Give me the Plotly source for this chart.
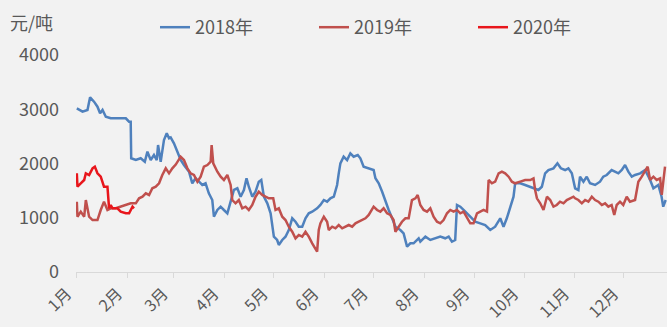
import plotly.graph_objects as go

# ---- data (day of year, value in 元/吨) ----
days_2018 = [0, 3.5, 6.5, 8.1, 10.5, 12.6, 14.2, 15.7, 17.7, 20.7, 29.9, 31.9, 32.9, 33.2, 36.0, 39.0, 41.5,
             43.1, 45.1, 47.1, 48.8, 49.6, 51.2, 53.2, 54.9, 56.3, 57.3, 59.3, 61.4, 63.4, 65.4, 68.5, 70.5,
             72.5, 74.6, 76.6, 78.6, 80.6, 82.7, 83.7, 85.8, 87.8, 89.8, 91.9, 93.9, 95.9, 98.0, 100.0, 102.0,
             103.6, 105.0, 107.1, 109.1, 111.1, 112.6, 114.2, 116.3, 118.3, 120.3, 122.3, 123.3, 125.4, 127.4,
             129.4, 131.5, 133.5, 135.5, 137.6, 139.6, 141.6, 143.7, 146.7, 148.7, 150.8, 152.8, 154.8, 156.9,
             158.9, 159.9, 160.9, 162.9, 165.0, 167.0, 169.0, 171.5, 173.1, 175.1, 178.2, 181.2, 182.3, 184.3,
             186.4, 188.4, 190.4, 192.5, 194.5, 197.5, 199.5, 201.6, 203.6, 205.6, 208.7, 209.7, 212.8, 215.8,
             218.8, 221.9, 224.9, 227.0, 229.0, 231.0, 232.1, 234.1, 236.1, 238.2, 240.2, 243.2, 246.3, 249.3,
             252.4, 255.4, 258.5, 260.5, 262.5, 264.6, 266.6, 267.6, 270.7, 273.7, 276.8, 279.8, 281.8, 283.9,
             285.9, 287.9, 291.0, 293.4, 295.5, 298.1, 300.1, 302.2, 304.2, 306.2, 307.2, 309.3, 311.3, 313.3,
             316.4, 319.4, 321.4, 323.5, 326.5, 328.5, 330.6, 332.7, 334.7, 336.7, 338.8, 340.8, 343.9, 346.9,
             350.0, 352.0, 355.0, 357.0, 358.0, 359.5]
vals_2018 = [3017, 2955, 2986, 3220, 3140, 3047, 2925, 2986, 2863, 2833, 2833, 2770, 2770, 2096, 2064, 2096,
             2033, 2218, 2064, 2157, 2064, 2341, 2033, 2433, 2557, 2464, 2480, 2372, 2218, 2064, 1972, 1849,
             1635, 1727, 1665, 1604, 1635, 1451, 1327, 1019, 1143, 1204, 1143, 1082, 1296, 1512, 1543, 1388,
             1512, 1727, 1572, 1388, 1480, 1665, 1696, 1388, 1266, 1082, 651, 590, 498, 590, 651, 774, 990, 927,
             835, 835, 990, 1082, 1112, 1174, 1235, 1327, 1296, 1358, 1388, 1604, 1819, 2003, 2126, 2064, 2188,
             2126, 2157, 2096, 1942, 1911, 1880, 1727, 1635, 1480, 1296, 1143, 990, 835, 774, 713, 467, 529, 529,
             621, 559, 651, 590, 621, 651, 621, 651, 559, 590, 1235, 1204, 1143, 1082, 1019, 927, 897, 866, 774,
             835, 990, 835, 990, 1204, 1388, 1635, 1635, 1604, 1572, 1543, 1512, 1572, 1819, 1880, 1911, 2003,
             1911, 1880, 1911, 1819, 1543, 1512, 1757, 1665, 1757, 1635, 1604, 1665, 1757, 1788, 1880, 1850,
             1819, 1880, 1972, 1850, 1757, 1788, 1819, 1880, 1696, 1543, 1604, 1388, 1204, 1327]

days_2019 = [0, 0.4, 2.4, 4.5, 5.5, 7.5, 9.6, 12.6, 14.6, 16.6, 18.7, 20.7, 23.8, 26.8, 29.9, 32.9, 36.0,
             38.0, 40.1, 42.1, 44.1, 46.1, 48.2, 50.2, 52.2, 54.3, 56.3, 58.3, 60.4, 63.4, 65.4, 67.5, 69.5,
             71.5, 73.6, 75.6, 77.6, 79.7, 81.7, 82.3, 83.3, 85.8, 87.8, 89.8, 91.9, 93.9, 94.9, 96.9, 98.9,
             101.0, 103.0, 105.0, 107.1, 109.1, 111.1, 113.2, 115.2, 117.2, 119.9, 121.3, 123.3, 125.4, 127.4,
             129.4, 131.5, 133.5, 135.5, 137.6, 139.6, 141.6, 143.7, 146.7, 147.7, 148.7, 150.8, 152.8, 153.8,
             155.9, 157.9, 159.9, 162.0, 164.0, 166.0, 168.1, 170.1, 172.1, 174.2, 176.2, 178.2, 180.3, 181.2,
             183.3, 185.3, 187.3, 189.4, 191.4, 193.4, 194.5, 196.5, 198.5, 200.6, 202.6, 204.6, 206.7, 208.1,
             209.7, 211.7, 213.8, 215.8, 217.8, 219.9, 221.9, 223.9, 226.0, 228.0, 230.0, 232.1, 234.1, 236.1,
             238.2, 240.2, 242.2, 244.3, 246.3, 248.3, 250.4, 251.4, 253.4, 255.4, 257.5, 259.5, 261.5, 263.6,
             265.6, 267.6, 270.7, 273.7, 276.8, 278.8, 279.8, 280.9, 282.9, 284.9, 287.0, 289.0, 291.0, 293.0,
             295.0, 297.1, 299.1, 301.1, 303.2, 304.2, 306.2, 308.3, 310.3, 312.3, 314.4, 316.4, 318.4, 320.5,
             322.5, 324.5, 326.5, 328.1, 329.6, 331.6, 333.6, 335.7, 337.7, 340.8, 342.8, 344.9, 346.9, 348.5,
             350.0, 352.0, 354.0, 356.1, 357.1, 358.0, 359.1]
vals_2019 = [1296, 1019, 1112, 1019, 1327, 1019, 958, 958, 1143, 1296, 1143, 1174, 1174, 1204, 1235, 1266,
             1266, 1358, 1388, 1451, 1420, 1543, 1572, 1635, 1788, 1911, 1819, 1911, 1980, 2126, 2064, 1911,
             1819, 1788, 1665, 1757, 1942, 1972, 2033, 2341, 2003, 1849, 1757, 1696, 1788, 1604, 1327, 1266,
             1327, 1174, 1204, 1143, 1235, 1388, 1480, 1420, 1388, 1358, 1358, 1143, 1174, 1019, 958, 835, 743,
             621, 682, 651, 743, 651, 529, 374, 774, 897, 1019, 927, 774, 835, 805, 866, 805, 835, 866, 835,
             897, 927, 958, 990, 1051, 1143, 1204, 1143, 1112, 1174, 1082, 1051, 958, 743, 835, 927, 990, 990,
             1327, 1358, 1420, 1235, 1143, 1112, 1174, 1019, 927, 897, 958, 1082, 1143, 1112, 1143, 1082, 1112,
             990, 897, 897, 1082, 1112, 1143, 1112, 1696, 1635, 1665, 1819, 1850, 1819, 1757, 1665, 1635, 1665,
             1696, 1696, 1727, 1512, 1358, 1266, 1143, 1388, 1327, 1204, 1235, 1296, 1266, 1327, 1358, 1388,
             1358, 1327, 1266, 1327, 1296, 1388, 1327, 1296, 1235, 1266, 1204, 1235, 1051, 1235, 1296, 1235,
             1388, 1296, 1327, 1665, 1757, 1850, 1942, 1696, 1757, 1696, 1727, 1420, 1696, 1942]

days_2020 = [0, 0.4, 2.4, 4.5, 5.5, 7.5, 9.6, 11.0, 12.6, 14.6, 16.6, 18.7, 19.7, 20.7, 21.8, 24.8, 26.8,
             29.9, 31.9, 34.0, 34.9]
vals_2020 = [1819, 1572, 1635, 1696, 1819, 1788, 1911, 1942, 1819, 1757, 1572, 1572, 1174, 1235, 1174, 1174,
             1112, 1082, 1082, 1204, 1174]

series_names = ["2018年", "2019年", "2020年"]
series_colors = ["#4F81BD", "#C0504D", "#E8161C"]

month_starts = [0, 31, 59, 90, 120, 151, 181, 212, 243, 273, 304, 334]
month_labels = ["1月", "2月", "3月", "4月", "5月", "6月", "7月", "8月", "9月", "10月", "11月", "12月"]
y_ticks = [0, 1000, 2000, 3000, 4000]
unit_label = "元/吨"

FONT = "Noto Sans CJK SC"
TXT = "#595959"
FS = 18

fig = go.Figure()
for name, xs, ys, col in zip(series_names, [days_2018, days_2019, days_2020],
                             [vals_2018, vals_2019, vals_2020], series_colors):
    fig.add_trace(go.Scatter(x=xs, y=ys, mode="lines", name=name,
                             line=dict(color=col, width=2.5)))

fig.update_layout(
    width=667, height=327,
    margin=dict(l=76, r=0, t=55, b=55),
    paper_bgcolor="#F2F2F2", plot_bgcolor="#F2F2F2",
    font=dict(family=FONT, size=FS, color=TXT),
    showlegend=True,
    legend=dict(orientation="h", xref="container", yref="container",
                x=155 / 667, y=1 - 9 / 327, xanchor="left", yanchor="top",
                font=dict(size=FS, color=TXT), bgcolor="rgba(0,0,0,0)",
                entrywidth=114, entrywidthmode="pixels", traceorder="normal"),
    xaxis=dict(range=[-0.5, 360.3], tickmode="array", tickvals=month_starts, ticktext=month_labels,
               tickangle=-45, showgrid=False, zeroline=False, showline=True, linecolor="#D9D9D9",
               linewidth=1, ticks="outside", ticklen=5, tickcolor="#D9D9D9",
               ticklabelshift=-10, ticklabelstandoff=0, automargin=False,
               tickfont=dict(size=16, color=TXT)),
    yaxis=dict(range=[0, 4000], tickmode="array", tickvals=y_ticks, showgrid=False, zeroline=False,
               showline=False, ticks="", ticklabelstandoff=16, automargin=False,
               tickfont=dict(size=FS, color=TXT)),
    annotations=[dict(text=unit_label, xref="paper", yref="paper", x=-68 / 591, y=1 + 33 / 217,
                      xanchor="left", yanchor="middle", showarrow=False,
                      font=dict(size=FS, color=TXT))],
)

fig.write_html("out.html")
